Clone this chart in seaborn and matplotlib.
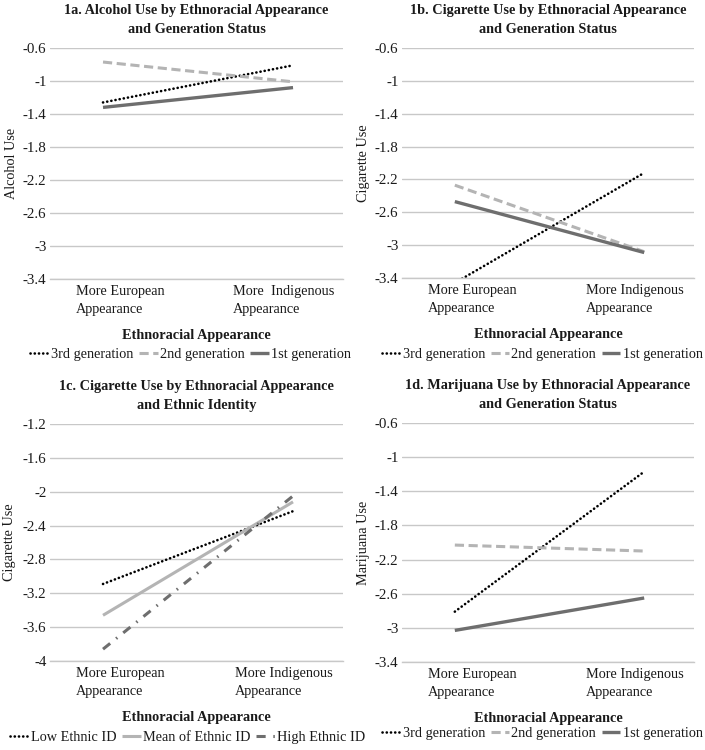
import matplotlib
matplotlib.use("Agg")
import matplotlib.pyplot as plt
import seaborn as sns
import pandas as pd

sns.set_theme(style="white")
plt.rcParams['font.family'] = ['Liberation Serif', 'DejaVu Serif']

# ---------------- data ----------------
appearance = ["More European", "More Indigenous"]
tick_labels_a = ["More European\nAppearance", "More  Indigenous\nAppearance"]
tick_labels = ["More European\nAppearance", "More Indigenous\nAppearance"]

gen_groups = ["3rd generation", "2nd generation", "1st generation"]
id_groups = ["Low Ethnic ID", "Mean of Ethnic ID", "High Ethnic ID"]

# 1a Alcohol use
alc_3rd = [-1.26, -0.81]
alc_2nd = [-0.77, -1.01]
alc_1st = [-1.32, -1.08]

# 1b Cigarette use by generation
cig_3rd = [-3.46, -2.12]
cig_2nd = [-2.27, -3.08]
cig_1st = [-2.47, -3.09]

# 1c Cigarette use by ethnic identity
cid_low = [-3.09, -2.23]
cid_mean = [-3.46, -2.12]
cid_high = [-3.86, -2.05]

# 1d Marijuana use
mj_3rd = [-2.81, -1.17]
mj_2nd = [-2.03, -2.10]
mj_1st = [-3.03, -2.65]

yticks_std = [-0.6, -1.0, -1.4, -1.8, -2.2, -2.6, -3.0, -3.4]
yticks_c = [-1.2, -1.6, -2.0, -2.4, -2.8, -3.2, -3.6, -4.0]

panels = [
    dict(title="1a. Alcohol Use by Ethnoracial Appearance\nand Generation Status",
         ylabel="Alcohol Use", groups=gen_groups, series=[alc_3rd, alc_2nd, alc_1st],
         yticks=yticks_std, xt=tick_labels_a,
         rect=[50/705, 1-279/750, 293/705, 231/750], ylab_x=-0.11, leg_x=0.48, leg_y=354),
    dict(title="1b. Cigarette Use by Ethnoracial Appearance\nand Generation Status",
         ylabel="Cigarette Use", groups=gen_groups, series=[cig_3rd, cig_2nd, cig_1st],
         yticks=yticks_std, xt=tick_labels,
         rect=[402/705, 1-278/750, 292/705, 230/750], ylab_x=-0.11, leg_x=0.48, leg_y=354),
    dict(title="1c. Cigarette Use by Ethnoracial Appearance\nand Ethnic Identity",
         ylabel="Cigarette Use", groups=id_groups, series=[cid_low, cid_mean, cid_high],
         yticks=yticks_c, xt=tick_labels,
         rect=[50/705, 1-661/750, 293/705, 237/750], ylab_x=-0.115, leg_x=0.47, leg_y=737),
    dict(title="1d. Marijuana Use by Ethnoracial Appearance\nand Generation Status",
         ylabel="Marijuana Use", groups=gen_groups, series=[mj_3rd, mj_2nd, mj_1st],
         yticks=yticks_std, xt=tick_labels,
         rect=[402/705, 1-662/750, 292/705, 239/750], ylab_x=-0.11, leg_x=0.48, leg_y=733),
]

DOT = (0.05, 1.55)
styles = [
    dict(color="#000000", dashes=DOT, lw=1.9),
    dict(color="#b4b4b4", dashes=(3, 1.5), lw=2.2),
    dict(color="#6e6e6e", dashes="", lw=2.4),
]
styles_c = [
    dict(color="#000000", dashes=DOT, lw=1.9),
    dict(color="#b4b4b4", dashes="", lw=2.2),
    dict(color="#6e6e6e", dashes=(3, 2.5, 0.5, 2.5), lw=2.2),
]

FS = 10.3
fig = plt.figure(figsize=(7.05, 7.5), dpi=100)
txt = "#1a1a1a"

for i, p in enumerate(panels):
    ax = fig.add_axes(p["rect"])
    rows = []
    for g, vals in zip(p["groups"], p["series"]):
        for a, v in zip(appearance, vals):
            rows.append(dict(appearance=a, group=g, value=v))
    df = pd.DataFrame(rows)
    st = styles_c if i == 2 else styles
    palette = {g: s["color"] for g, s in zip(p["groups"], st)}
    dashes = {g: s["dashes"] for g, s in zip(p["groups"], st)}
    sns.lineplot(data=df, x="appearance", y="value", hue="group", style="group",
                 palette=palette, dashes=dashes, hue_order=p["groups"],
                 style_order=p["groups"], legend=False, ax=ax, sort=False,
                 linewidth=2.2)
    for line, s in zip(ax.get_lines(), st):
        line.set_linewidth(s["lw"])
        line.set_solid_capstyle("butt")
        line.set_dash_capstyle("round" if s["dashes"] == DOT else "butt")

    ax.set_xlim(-0.279, 1.263)
    ax.set_ylim(min(p["yticks"]), max(p["yticks"]))
    ax.set_yticks(p["yticks"])
    ax.set_yticklabels([f"{t:g}" for t in p["yticks"]], fontsize=10.8, color=txt)
    ax.set_xticks([0.09, 0.95])
    ax.set_xticklabels(p["xt"], fontsize=FS, color=txt, multialignment="left",
                       linespacing=1.55)
    ax.tick_params(axis="y", length=0, pad=2.5)
    ax.tick_params(axis="x", length=0, pad=4)
    ax.grid(axis="y", color="#c8c8c8", linewidth=1.0)
    ax.grid(axis="x", visible=False)
    for side in ["left", "right", "top"]:
        ax.spines[side].set_visible(False)
    ax.spines["bottom"].set_color("#c8c8c8")
    ax.spines["bottom"].set_linewidth(1.0)

    ax.set_title(p["title"], fontsize=FS, fontweight="bold", color=txt, pad=11,
                 linespacing=1.6)
    ax.set_xlabel("Ethnoracial Appearance", fontsize=FS, fontweight="bold",
                  color=txt, labelpad=9)
    ax.set_ylabel(p["ylabel"], fontsize=FS, color=txt)
    ax.yaxis.set_label_coords(p["ylab_x"], 0.5)

    bottom_px = (1 - p["rect"][1]) * 750
    leg_y = -(p["leg_y"] - bottom_px) / (p["rect"][3] * 750)
    handles = ax.get_lines()[:3]
    ax.legend(handles, p["groups"], loc="center",
              bbox_to_anchor=(p["leg_x"], leg_y),
              ncol=3, frameon=False, fontsize=FS, handlelength=1.3,
              handletextpad=0.15, columnspacing=0.4, labelcolor=txt,
              borderaxespad=0)

fig.savefig("out.png", dpi=100)
